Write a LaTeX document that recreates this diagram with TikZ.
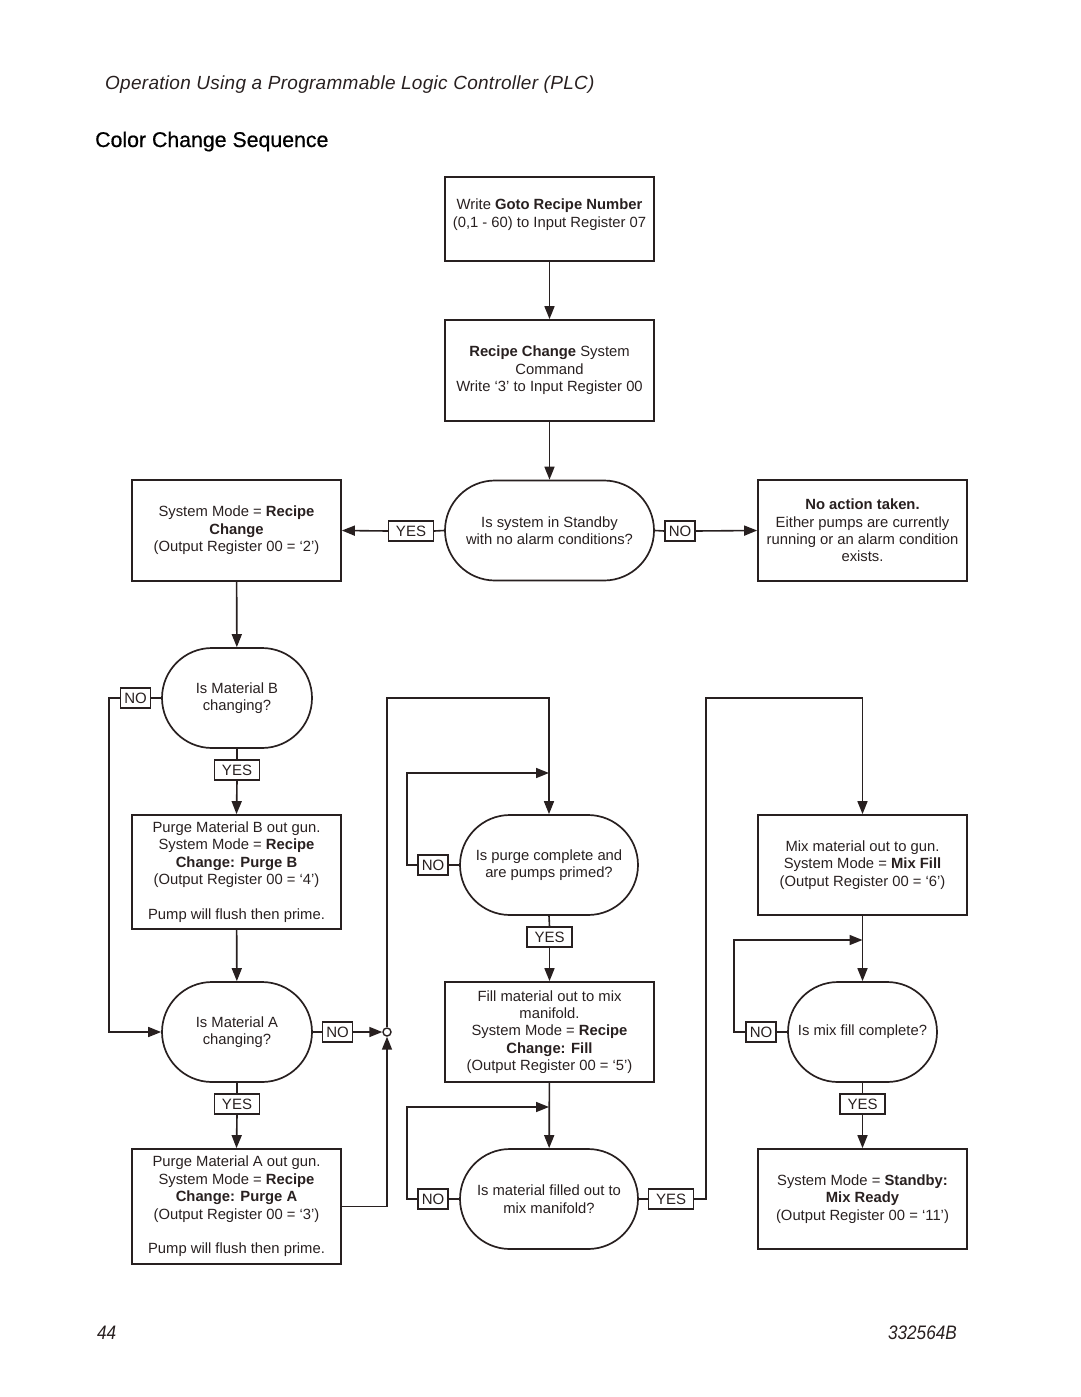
\documentclass[tikz,border=0pt]{standalone}
\usepackage{fontspec}
\setmainfont{Liberation Sans}
\newfontfamily\hdfont[LetterSpace=1.5]{Liberation Sans}
\newfontfamily\ttlfont[FakeBold=0.6]{Liberation Sans}
\newfontfamily\ftfont[FakeStretch=0.88]{Liberation Sans}
\usetikzlibrary{arrows.meta,shapes.misc}
\definecolor{ink}{RGB}{40,32,32}
\begin{document}
\begin{tikzpicture}[x=1pt,y=-1pt]
	
		\tikzset{
		  box/.style={
			draw=ink,
			line width=1.7pt,
			rectangle,
			align=center,
			inner sep=0pt,
			minimum width=209pt,
			text=ink,
			font=\fontsize{14.8}{17.4}\selectfont,
		  },
		  ask/.style={
			draw=ink,
			line width=1.7pt,
			rounded rectangle,
			align=center,
			inner sep=0pt,
			minimum height=100pt,
			text=ink,
			font=\fontsize{14.8}{17.4}\selectfont,
		  },
		  tag/.style={
			draw=ink,
			line width=1.4pt,
			fill=white,
			text=ink,
			inner xsep=2pt,
			inner ysep=0pt,
			minimum width=30pt,
			minimum height=20pt,
			font=\fontsize{15}{17.4}\selectfont,
		  },
		  yestag/.style={tag,minimum width=45pt},
		  page/.style={inner sep=0pt,text=ink},
		  wire/.style={draw=ink,line width=1.6pt},
		  arr/.style={wire,-{Triangle[length=13pt,width=10pt]}},
		}
		\useasboundingbox (0,0) rectangle (1080,1397);
		\node[page,anchor=base west,font=\hdfont\fontsize{19}{22}\itshape] (head) at (105,89) {Operation Using a Programmable Logic Controller (PLC)};
		\node[page,anchor=base west,text=black,font=\ttlfont\fontsize{21.3}{25}\selectfont] (title) at (95,147) {Color Change Sequence};
		\node[page,anchor=base west,font=\ftfont\fontsize{19.5}{22}\itshape] (pnum) at (97,1339) {44};
		\node[page,anchor=base east,font=\ftfont\fontsize{19.5}{22}\itshape] (doc) at (957,1339) {332564B};
		\node[box,minimum height=84pt] (goto) at (549.5,219) {Write \textbf{Goto Recipe Number}\\(0,1 - 60) to Input Register 07\\[-6pt]};
		\node[box,minimum height=101pt] (cmd) at (549.5,370.5) {\textbf{Recipe Change} System\\Command\\Write `3' to Input Register 00};
		\node[box,minimum height=101pt] (mode) at (236.5,530.5) {System Mode = \textbf{Recipe}\\\textbf{Change}\\(Output Register 00 = `2')};
		\node[ask,minimum width=209pt] (standby) at (549.5,530.5) {Is system in Standby\\with no alarm conditions?};
		\node[box,minimum height=101pt] (noact) at (862.5,530.5) {\textbf{No action taken.}\\Either pumps are currently\\running or an alarm condition\\exists.};
		\node[ask,minimum width=150pt] (askb) at (237,698) {Is Material B\\changing?};
		\node[box,minimum height=114pt] (purgeb) at (236.5,872) {Purge Material B out gun.\\System Mode = \textbf{Recipe}\\\textbf{Change: Purge B}\\(Output Register 00 = `4')\\[17.4pt]Pump will flush then prime.};
		\node[ask,minimum width=150pt] (aska) at (237,1032) {Is Material A\\changing?};
		\node[box,minimum height=115pt] (purgea) at (236.5,1206.5) {Purge Material A out gun.\\System Mode = \textbf{Recipe}\\\textbf{Change: Purge A}\\(Output Register 00 = `3')\\[17.4pt]Pump will flush then prime.};
		\node[ask,minimum width=178pt] (askp) at (549,865) {Is purge complete and\\are pumps primed?};
		\node[box,minimum height=100pt] (fill) at (549.5,1032) {Fill material out to mix\\manifold.\\System Mode = \textbf{Recipe}\\\textbf{Change: Fill}\\(Output Register 00 = `5')};
		\node[ask,minimum width=178pt] (askf) at (549,1199) {Is material filled out to\\mix manifold?};
		\node[box,minimum height=100pt] (mix) at (862.5,865) {Mix material out to gun.\\System Mode = \textbf{Mix Fill}\\(Output Register 00 = `6')};
		\node[ask,minimum width=149pt] (askm) at (862.5,1032) {Is mix fill complete?};
		\node[box,minimum height=100pt] (ready) at (862.5,1199) {System Mode = \textbf{Standby:}\\\textbf{Mix Ready}\\(Output Register 00 = `11')};
		\node[yestag] (ys) at (411,531) {YES};
		\node[tag] (ns) at (680,531) {NO};
		\node[tag] (nb) at (135.5,698) {NO};
		\node[yestag] (yb) at (237,770) {YES};
		\node[tag] (na) at (337.5,1032) {NO};
		\node[yestag] (ya) at (237,1104) {YES};
		\node[tag] (np) at (433,865) {NO};
		\node[yestag] (yp) at (549.5,937) {YES};
		\node[tag] (nf) at (433,1199) {NO};
		\node[yestag] (yf) at (671,1199) {YES};
		\node[tag] (nm) at (761,1032) {NO};
		\node[yestag] (ym) at (862.5,1104) {YES};
		\node[circle,draw=ink,line width=1.4pt,fill=white,inner sep=0pt,minimum size=8pt] (join) at (387,1032) {};
		\coordinate (cb) at (109,698);
		\coordinate (ct) at (387,698);
		\coordinate (cp) at (407,773);
		\coordinate (cf) at (407,1107);
		\coordinate (cy) at (706,698);
		\coordinate (cm) at (734,940);
		\draw[arr] (goto) -- (cmd);
		\draw[arr] (cmd) -- (standby);
		\draw[wire] (standby.west) -- (ys.east);
		\draw[arr] (ys.west) -- (mode.east);
		\draw[wire] (standby.east) -- (ns.west);
		\draw[arr] (ns.east) -- (noact.west);
		\draw[arr] (mode) -- (askb);
		\draw[wire] (askb.west) -- (nb.east);
		\draw[arr] (nb.west) -- (cb) |- (aska.west);
		\draw[wire] (askb.south) -- (yb.north);
		\draw[arr] (yb.south) -- (purgeb.north);
		\draw[arr] (purgeb) -- (aska);
		\draw[wire] (aska.east) -- (na.west);
		\draw[arr] (na.east) -- (join.west);
		\draw[wire] (aska.south) -- (ya.north);
		\draw[arr] (ya.south) -- (purgea.north);
		\draw[arr] (purgea.east) -| (join.south);
		\draw[arr] (join.north) -- (ct) -| (askp.north);
		\draw[wire] (askp.west) -- (np.east);
		\draw[arr] (np.west) -| (cp) -- (cp -| askp.north);
		\draw[wire] (askp.south) -- (yp.north);
		\draw[arr] (yp.south) -- (fill.north);
		\draw[arr] (fill) -- (askf);
		\draw[wire] (askf.west) -- (nf.east);
		\draw[arr] (nf.west) -| (cf) -- (cf -| askf.north);
		\draw[wire] (askf.east) -- (yf.west);
		\draw[arr] (yf.east) -| (cy) -| (mix.north);
		\draw[arr] (mix) -- (askm);
		\draw[wire] (askm.west) -- (nm.east);
		\draw[arr] (nm.west) -| (cm) -- (cm -| askm.north);
		\draw[wire] (askm.south) -- (ym.north);
		\draw[arr] (ym.south) -- (ready.north);
	
	\end{tikzpicture}
\end{document}
